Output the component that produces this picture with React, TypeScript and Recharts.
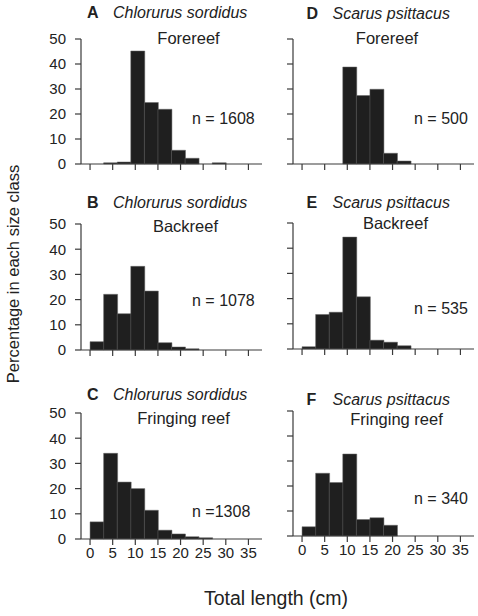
import React from 'react';
import { BarChart, Bar, XAxis, YAxis } from 'recharts';

// 3 cm size classes, plotted at their centres
const binMids = [1.5, 4.5, 7.5, 10.5, 13.5, 16.5, 19.5, 22.5, 25.5, 28.5, 31.5, 34.5];
const xTicks = [0, 5, 10, 15, 20, 25, 30, 35];
const yTicks = [0, 10, 20, 30, 40, 50];

const sordidusFore = [0, 0.5, 0.8, 45.2, 24.6, 21.9, 5.5, 2.3, 0, 0.5, 0, 0];
const sordidusBack = [3.3, 22.1, 14.4, 33.2, 23.4, 2.9, 1.2, 0.5, 0, 0, 0, 0];
const sordidusFringe = [6.8, 34, 22.6, 20, 11.4, 3.5, 2, 0.9, 0.5, 0, 0, 0];
const psittacusFore = [0, 0, 0, 38.8, 27.4, 29.9, 4.3, 1.2, 0, 0, 0, 0];
const psittacusBack = [0.9, 13.7, 14.6, 44.4, 20.7, 3.5, 2.7, 1.3, 0, 0, 0, 0];
const psittacusFringe = [3.7, 25.1, 21.4, 32.8, 6.6, 7.3, 4.3, 0, 0, 0, 0, 0];

const FONT = 'Arial, "Liberation Sans", Helvetica, sans-serif';
const AXIS = '#3a3a3a';
const INK = '#222';

const toRows = (values: number[]) => binMids.map((mid, i) => ({ mid, pct: values[i] }));
const blank = () => '';

interface PanelProps {
  values: number[];
  left: number;
  top: number;
  plotH: number;
  xLabels?: boolean;
  yLabels?: boolean;
}

const Panel: React.FC<PanelProps> = ({ values, left, top, plotH, xLabels, yLabels }) => {
  const tickStyle = { fontSize: 15, fill: INK, fontFamily: FONT };
  const lineStyle = { stroke: AXIS, strokeWidth: 1.2 };
  return (
    <div style={{ position: 'absolute', left: left - 60, top: top - 10 }}>
      <BarChart
        width={251}
        height={plotH + 40}
        data={toRows(values)}
        margin={{ top: 10, right: 10, bottom: 0, left: 0 }}
        barCategoryGap={0}
        barGap={0}
      >
        <XAxis
          type="number"
          dataKey="mid"
          domain={[-2, 38]}
          ticks={xTicks}
          interval={0}
          height={30}
          tickSize={6}
          tickMargin={2}
          axisLine={lineStyle}
          tickLine={lineStyle}
          tick={tickStyle}
          tickFormatter={xLabels ? undefined : blank}
        />
        <YAxis
          type="number"
          domain={[0, 50]}
          ticks={yTicks}
          interval={0}
          width={60}
          tickSize={6}
          tickMargin={9}
          axisLine={lineStyle}
          tickLine={lineStyle}
          tick={tickStyle}
          tickFormatter={yLabels ? undefined : blank}
        />
        <Bar dataKey="pct" fill="#1f1f1f" stroke="#666" strokeWidth={0.5} isAnimationActive={false} />
      </BarChart>
    </div>
  );
};

const labels = [
  { letter: 'A', species: 'Chlorurus sordidus', x: 87, y: 18, site: 'Forereef', sx: 188.5, sy: 43.5, n: 'n = 1608', nx: 192, ny: 124 },
  { letter: 'B', species: 'Chlorurus sordidus', x: 87, y: 208, site: 'Backreef', sx: 185.5, sy: 231.5, n: 'n = 1078', nx: 192, ny: 306 },
  { letter: 'C', species: 'Chlorurus sordidus', x: 87, y: 400, site: 'Fringing reef', sx: 183.5, sy: 423.5, n: 'n =1308', nx: 192, ny: 517 },
  { letter: 'D', species: 'Scarus psittacus', x: 306.5, y: 18.5, site: 'Forereef', sx: 387, sy: 43.5, n: 'n = 500', nx: 414, ny: 124 },
  { letter: 'E', species: 'Scarus psittacus', x: 306.5, y: 208, site: 'Backreef', sx: 395.5, sy: 229.3, n: 'n = 535', nx: 414, ny: 314 },
  { letter: 'F', species: 'Scarus psittacus', x: 306.5, y: 404.5, site: 'Fringing reef', sx: 396.5, sy: 425, n: 'n = 340', nx: 414, ny: 504 },
];

export default function App() {
  return (
    <div style={{ position: 'absolute', left: 0, top: 0, width: 478, height: 616, background: '#fff', fontFamily: FONT }}>
      <Panel values={sordidusFore} left={81} top={39} plotH={125} yLabels />
      <Panel values={sordidusBack} left={81} top={224} plotH={126} yLabels />
      <Panel values={sordidusFringe} left={81} top={413} plotH={126} yLabels xLabels />
      <Panel values={psittacusFore} left={293} top={39} plotH={125} />
      <Panel values={psittacusBack} left={293} top={223} plotH={126} />
      <Panel values={psittacusFringe} left={293} top={411} plotH={125} xLabels />

      <svg width={478} height={616} style={{ position: 'absolute', left: 0, top: 0, pointerEvents: 'none' }}>
        {labels.map((l) => (
          <g key={l.letter} fill={INK} fontFamily={FONT}>
            <text x={l.x} y={l.y} fontSize={16} fontWeight="bold">{l.letter}</text>
            <text x={l.x + 26} y={l.y} fontSize={16} fontStyle="italic">{l.species}</text>
            <text x={l.sx} y={l.sy} fontSize={16.5} textAnchor="middle">{l.site}</text>
            <text x={l.nx} y={l.ny} fontSize={16}>{l.n}</text>
          </g>
        ))}
        <text x={19} y={274} fontSize={16.5} fill={INK} fontFamily={FONT} textAnchor="middle" transform="rotate(-90 19 274)">
          Percentage in each size class
        </text>
        <text x={276} y={605} fontSize={19.5} fill={INK} fontFamily={FONT} textAnchor="middle">
          Total length (cm)
        </text>
      </svg>
    </div>
  );
}
